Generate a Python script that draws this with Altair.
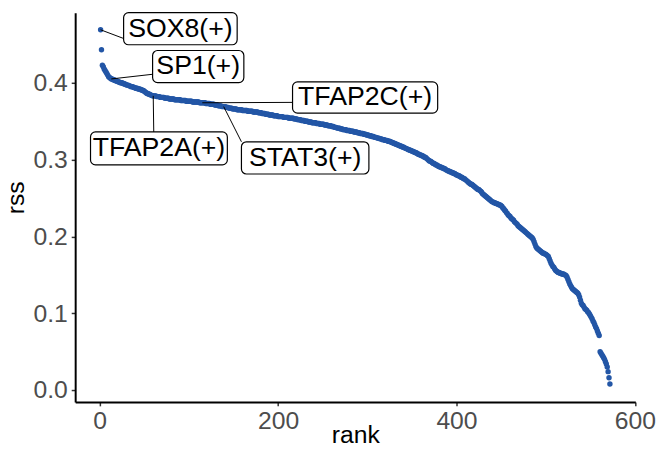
import altair as alt
import pandas as pd

# RSS values, ordered by rank
rss_values = [
    0.469, 0.443, 0.423, 0.421, 0.418, 0.416, 0.414, 0.412, 0.410, 0.408,
    0.407, 0.406, 0.405, 0.405, 0.404, 0.404, 0.403, 0.403, 0.402, 0.402,
    0.401, 0.401, 0.400, 0.400, 0.400, 0.399, 0.399, 0.398, 0.398, 0.397,
    0.397, 0.397, 0.396, 0.396, 0.395, 0.395, 0.395, 0.394, 0.394, 0.393,
    0.393, 0.393, 0.392, 0.392, 0.392, 0.391, 0.391, 0.390, 0.390, 0.389,
    0.388, 0.387, 0.386, 0.386, 0.385, 0.385, 0.384, 0.384, 0.383, 0.383,
    0.383, 0.383, 0.383, 0.382, 0.382, 0.382, 0.382, 0.381, 0.381, 0.381,
    0.381, 0.381, 0.380, 0.380, 0.380, 0.380, 0.380, 0.379, 0.379, 0.379,
    0.379, 0.379, 0.379, 0.378, 0.378, 0.378, 0.378, 0.378, 0.378, 0.378,
    0.377, 0.377, 0.377, 0.377, 0.377, 0.377, 0.376, 0.376, 0.376, 0.376,
    0.376, 0.376, 0.376, 0.375, 0.375, 0.375, 0.375, 0.375, 0.375, 0.375,
    0.375, 0.374, 0.374, 0.374, 0.374, 0.374, 0.374, 0.374, 0.373, 0.373,
    0.373, 0.373, 0.373, 0.372, 0.372, 0.372, 0.372, 0.372, 0.371, 0.371,
    0.371, 0.371, 0.370, 0.370, 0.370, 0.370, 0.369, 0.369, 0.369, 0.369,
    0.369, 0.368, 0.368, 0.368, 0.367, 0.367, 0.367, 0.367, 0.366, 0.366,
    0.366, 0.366, 0.366, 0.365, 0.365, 0.365, 0.365, 0.365, 0.365, 0.364,
    0.364, 0.364, 0.364, 0.364, 0.364, 0.363, 0.363, 0.363, 0.363, 0.363,
    0.363, 0.362, 0.362, 0.362, 0.362, 0.362, 0.362, 0.361, 0.361, 0.361,
    0.361, 0.360, 0.360, 0.360, 0.360, 0.359, 0.359, 0.359, 0.359, 0.358,
    0.358, 0.358, 0.358, 0.358, 0.357, 0.357, 0.357, 0.357, 0.357, 0.356,
    0.356, 0.356, 0.356, 0.356, 0.356, 0.355, 0.355, 0.355, 0.355, 0.355,
    0.355, 0.354, 0.354, 0.354, 0.354, 0.354, 0.354, 0.353, 0.353, 0.353,
    0.353, 0.352, 0.352, 0.352, 0.352, 0.351, 0.351, 0.351, 0.351, 0.350,
    0.350, 0.350, 0.350, 0.349, 0.349, 0.349, 0.349, 0.348, 0.348, 0.348,
    0.348, 0.348, 0.347, 0.347, 0.347, 0.347, 0.346, 0.346, 0.346, 0.346,
    0.346, 0.345, 0.345, 0.345, 0.345, 0.344, 0.344, 0.344, 0.344, 0.343,
    0.343, 0.343, 0.342, 0.342, 0.342, 0.341, 0.341, 0.341, 0.341, 0.340,
    0.340, 0.340, 0.339, 0.339, 0.339, 0.339, 0.338, 0.338, 0.338, 0.338,
    0.337, 0.337, 0.337, 0.337, 0.336, 0.336, 0.336, 0.336, 0.335, 0.335,
    0.335, 0.334, 0.334, 0.334, 0.334, 0.333, 0.333, 0.333, 0.332, 0.332,
    0.332, 0.331, 0.331, 0.331, 0.330, 0.330, 0.330, 0.329, 0.329, 0.329,
    0.328, 0.328, 0.328, 0.327, 0.327, 0.327, 0.326, 0.326, 0.326, 0.325,
    0.325, 0.325, 0.324, 0.324, 0.324, 0.323, 0.323, 0.322, 0.322, 0.321,
    0.321, 0.320, 0.320, 0.319, 0.319, 0.318, 0.318, 0.317, 0.317, 0.316,
    0.316, 0.315, 0.315, 0.314, 0.314, 0.313, 0.313, 0.312, 0.312, 0.311,
    0.311, 0.310, 0.310, 0.309, 0.309, 0.308, 0.307, 0.307, 0.306, 0.306,
    0.305, 0.305, 0.304, 0.303, 0.303, 0.302, 0.301, 0.300, 0.299, 0.298,
    0.298, 0.297, 0.296, 0.295, 0.295, 0.294, 0.293, 0.293, 0.292, 0.291,
    0.291, 0.290, 0.290, 0.289, 0.289, 0.288, 0.288, 0.287, 0.286, 0.286,
    0.285, 0.285, 0.284, 0.284, 0.283, 0.283, 0.282, 0.282, 0.281, 0.280,
    0.280, 0.279, 0.279, 0.278, 0.277, 0.277, 0.276, 0.275, 0.275, 0.274,
    0.273, 0.272, 0.271, 0.270, 0.269, 0.268, 0.268, 0.267, 0.266, 0.265,
    0.264, 0.263, 0.262, 0.261, 0.261, 0.260, 0.259, 0.258, 0.256, 0.255,
    0.254, 0.253, 0.252, 0.251, 0.250, 0.249, 0.248, 0.247, 0.246, 0.245,
    0.245, 0.244, 0.244, 0.243, 0.243, 0.242, 0.242, 0.241, 0.241, 0.240,
    0.239, 0.237, 0.236, 0.234, 0.233, 0.231, 0.230, 0.228, 0.227, 0.226,
    0.224, 0.223, 0.222, 0.221, 0.219, 0.218, 0.217, 0.216, 0.214, 0.213,
    0.212, 0.211, 0.210, 0.209, 0.208, 0.207, 0.206, 0.205, 0.204, 0.203,
    0.202, 0.201, 0.200, 0.199, 0.198, 0.196, 0.193, 0.190, 0.187, 0.185,
    0.184, 0.183, 0.182, 0.181, 0.180, 0.179, 0.178, 0.178, 0.177, 0.177,
    0.176, 0.175, 0.174, 0.171, 0.168, 0.165, 0.163, 0.161, 0.160, 0.158,
    0.156, 0.155, 0.154, 0.153, 0.153, 0.152, 0.152, 0.151, 0.151, 0.151,
    0.150, 0.150, 0.149, 0.147, 0.144, 0.141, 0.138, 0.136, 0.134, 0.132,
    0.131, 0.130, 0.129, 0.128, 0.127, 0.126, 0.124, 0.121, 0.117, 0.113,
    0.111, 0.110, 0.108, 0.106, 0.105, 0.104, 0.102, 0.101, 0.099, 0.097,
    0.095, 0.093, 0.090, 0.088, 0.085, 0.082, 0.080, 0.077, 0.074, 0.071,
    0.050, 0.048, 0.046, 0.044, 0.042, 0.040, 0.037, 0.034, 0.030, 0.024,
    0.016, 0.008,
]
ranks = list(range(1, len(rss_values) + 1))

# Labelled regulons
label_names = ["SOX8(+)", "SP1(+)", "TFAP2C(+)", "TFAP2A(+)", "STAT3(+)"]
label_ranks = [1, 13, 115, 60, 139]
# label boxes (data units)
box_rank_left = [26.8, 59.3, 216.2, -10.3, 158.9]
box_rank_right = [154.1, 161.6, 378.9, 143.1, 301.8]
box_rss_bottom = [0.4495, 0.4003, 0.3605, 0.2932, 0.2813]
box_rss_top = [0.4913, 0.4420, 0.4012, 0.3360, 0.3232]
# where each leader line meets its box
leader_end_rank = [26.1, 59.3, 216.2, 60.6, 158.9]
leader_end_rss = [0.458, 0.4111, 0.3745, 0.3360, 0.3232]

points = pd.DataFrame({"rank": ranks, "rss": rss_values})
labels = pd.DataFrame({
    "name": label_names,
    "rank": label_ranks,
    "rss": [rss_values[r - 1] for r in label_ranks],
    "x0": box_rank_left,
    "x1": box_rank_right,
    "y0": box_rss_bottom,
    "y1": box_rss_top,
    "ex": leader_end_rank,
    "ey": leader_end_rss,
})
labels["cx"] = (labels["x0"] + labels["x1"]) / 2
labels["cy"] = (labels["y0"] + labels["y1"]) / 2

FONT = "Liberation Sans"
xscale = alt.Scale(domain=[-27.5, 600.5], nice=False, zero=False)
yscale = alt.Scale(domain=[-0.0154, 0.4913], nice=False, zero=False)

xaxis = alt.Axis(
    values=[0, 200, 400, 600], grid=False, title="rank", labelFlush=False,
    domainColor="black", domainWidth=2, tickColor="#333333", tickWidth=1.5,
    tickSize=4, labelFont=FONT, labelFontSize=25, labelColor="#4D4D4D",
    labelPadding=3, titleFont=FONT, titleFontSize=25, titleColor="black",
    titleFontWeight="normal", titleBaseline="alphabetic", titleY=41,
)
yaxis = alt.Axis(
    values=[0, 0.1, 0.2, 0.3, 0.4], format=".1f", grid=False, title="rss",
    labelFlush=False,
    domainColor="black", domainWidth=2, tickColor="#333333", tickWidth=1.5,
    tickSize=4, labelFont=FONT, labelFontSize=25, labelColor="#4D4D4D",
    labelPadding=4, titleFont=FONT, titleFontSize=25, titleColor="black",
    titleFontWeight="normal", titleBaseline="alphabetic", titleX=-52,
    titleY=187, titleAngle=270,
)

pts = alt.Chart(points).mark_circle(size=30, color="#2356A6", opacity=1).encode(
    x=alt.X("rank:Q", scale=xscale, axis=xaxis),
    y=alt.Y("rss:Q", scale=yscale, axis=yaxis),
)

leaders = alt.Chart(labels).mark_rule(color="black", strokeWidth=1).encode(
    x=alt.X("rank:Q", scale=xscale, axis=xaxis),
    y=alt.Y("rss:Q", scale=yscale, axis=yaxis),
    x2="ex:Q",
    y2="ey:Q",
)

boxes = alt.Chart(labels).mark_rect(
    fill="white", stroke="black", strokeWidth=1.2, cornerRadius=5
).encode(
    x=alt.X("x0:Q", scale=xscale, axis=xaxis),
    x2="x1:Q",
    y=alt.Y("y0:Q", scale=yscale, axis=yaxis),
    y2="y1:Q",
)

texts = alt.Chart(labels).mark_text(
    font=FONT, fontSize=27, color="black", align="center", baseline="middle"
).encode(
    x=alt.X("cx:Q", scale=xscale, axis=xaxis),
    y=alt.Y("cy:Q", scale=yscale, axis=yaxis),
    text="name:N",
)

chart = alt.layer(pts, leaders, boxes, texts).properties(
    width=567, height=394,
    autosize=alt.AutoSizeParams(type="none"),
    padding={"left": 68, "top": 2, "right": 27, "bottom": 48},
    background="white",
).configure_view(stroke=None)

chart.save("out.html", embed_options={"renderer": "svg", "actions": False})
